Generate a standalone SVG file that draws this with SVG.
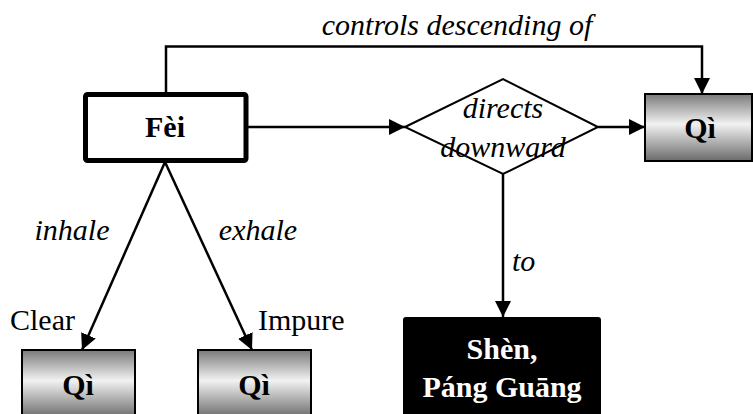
<svg xmlns="http://www.w3.org/2000/svg" width="753" height="414" viewBox="0 0 753 414">
<defs>
<linearGradient id="g" x1="0" y1="0" x2="0" y2="1">
<stop offset="0" stop-color="#7a7a7a"/>
<stop offset="0.45" stop-color="#f2f2f2"/>
<stop offset="1" stop-color="#6a6a6a"/>
</linearGradient>
<marker id="a" viewBox="0 0 10 10" refX="10" refY="5" markerWidth="16" markerHeight="16" markerUnits="userSpaceOnUse" orient="auto">
<path d="M0,0 L10,5 L0,10 Z" fill="#000"/>
</marker>
</defs>
<g id="connectors" fill="none" stroke="#000" stroke-width="2.5">
<polyline points="166,92 166,46.5 702,46.5 702,94" marker-end="url(#a)"/>
<line x1="248" y1="127" x2="405" y2="127" marker-end="url(#a)"/>
<line x1="598" y1="127" x2="645" y2="127" marker-end="url(#a)"/>
<line x1="503" y1="174" x2="503" y2="317" marker-end="url(#a)"/>
<line x1="165" y1="162" x2="82" y2="350" marker-end="url(#a)"/>
<line x1="165" y1="162" x2="252" y2="350" marker-end="url(#a)"/>
</g>
<g id="fei"><rect x="85.5" y="94.5" width="160.5" height="66" rx="2" fill="#fff" stroke="#000" stroke-width="5"/></g>
<g id="diamond"><polygon points="405,127 503,79 598,127 503,174" fill="#fff" stroke="#000" stroke-width="2"/></g>
<g id="qi-right"><rect x="645" y="94" width="107" height="67" fill="url(#g)" stroke="#000" stroke-width="2"/></g>
<g id="qi-clear"><rect x="22" y="350" width="113" height="68" fill="url(#g)" stroke="#000" stroke-width="2"/></g>
<g id="qi-impure"><rect x="198" y="350" width="113" height="68" fill="url(#g)" stroke="#000" stroke-width="2"/></g>
<g id="shen"><rect x="403" y="317" width="198" height="104" rx="3" fill="#000"/></g>
<text x="457" y="35" font-family="Liberation Serif" font-size="30" font-style="italic" text-anchor="middle">controls descending of</text>
<text x="512" y="271" font-family="Liberation Serif" font-size="30" font-style="italic">to</text>
<text x="72" y="240" font-family="Liberation Serif" font-size="30" font-style="italic" text-anchor="middle">inhale</text>
<text x="258" y="240" font-family="Liberation Serif" font-size="30" font-style="italic" text-anchor="middle">exhale</text>
<text x="10" y="330" font-family="Liberation Serif" font-size="30">Clear</text>
<text x="258" y="330" font-family="Liberation Serif" font-size="30">Impure</text>
<text x="165" y="137" font-family="Liberation Serif" font-size="30" font-weight="bold" text-anchor="middle">Fèi</text>
<text x="503" y="118" font-family="Liberation Serif" font-size="30" font-style="italic" text-anchor="middle">directs</text>
<text x="503" y="157" font-family="Liberation Serif" font-size="30" font-style="italic" text-anchor="middle">downward</text>
<text x="700" y="138" font-family="Liberation Serif" font-size="30" font-weight="bold" text-anchor="middle">Qì</text>
<text x="78" y="395" font-family="Liberation Serif" font-size="30" font-weight="bold" text-anchor="middle">Qì</text>
<text x="254" y="395" font-family="Liberation Serif" font-size="30" font-weight="bold" text-anchor="middle">Qì</text>
<text x="502" y="359" font-family="Liberation Serif" font-size="30" font-weight="bold" fill="#fff" text-anchor="middle">Shèn,</text>
<text x="502" y="397" font-family="Liberation Serif" font-size="30" font-weight="bold" fill="#fff" text-anchor="middle">Páng Guāng</text>
</svg>
